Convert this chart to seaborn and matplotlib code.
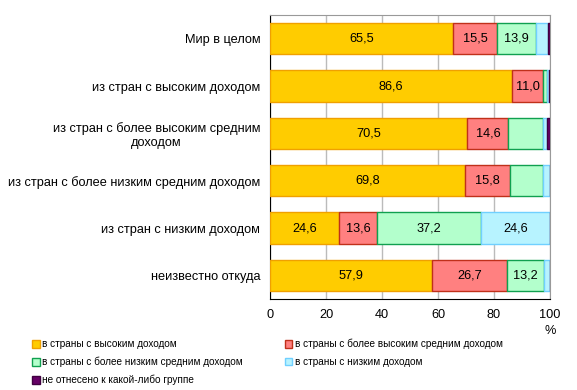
import pandas as pd
import matplotlib.pyplot as plt
import seaborn as sns
from matplotlib.patches import Patch

# categories (top to bottom)
categories = ['Мир в целом',
              'из стран с высоким доходом',
              'из стран с более высоким средним\nдоходом',
              'из стран с более низким средним доходом',
              'из стран с низким доходом',
              'неизвестно откуда']

series_names = ['в страны с высоким доходом',
                'в страны с более высоким средним доходом',
                'в страны с более низким средним доходом',
                'в страны с низким доходом',
                'не отнесено к какой-либо группе']

high = [65.5, 86.6, 70.5, 69.8, 24.6, 57.9]
upper_mid = [15.5, 11.0, 14.6, 15.8, 13.6, 26.7]
lower_mid = [13.9, 1.3, 12.4, 11.8, 37.2, 13.2]
low = [4.4, 0.6, 1.4, 2.6, 24.6, 2.2]
unassigned = [0.7, 0.5, 1.1, 0.0, 0.0, 0.0]

# which segments carry a value label
show_high = [True, True, True, True, True, True]
show_upper_mid = [True, True, True, True, True, True]
show_lower_mid = [True, False, False, False, True, True]
show_low = [False, False, False, False, True, False]
show_unassigned = [False] * 6

fills = ['#FFCC00', '#FF8080', '#B3FFCC', '#B7F3FF', '#660066']
edges = ['#F0A000', '#C0301A', '#10A050', '#70D0FF', '#400040']

plt.rcParams['font.family'] = ['Liberation Sans', 'DejaVu Sans']

fig = plt.figure(figsize=(5.77, 3.90), dpi=100)
ax = fig.add_axes([270 / 577, 1 - 299 / 390, 280 / 577, 284 / 390])

values = [high, upper_mid, lower_mid, low, unassigned]
shows = [show_high, show_upper_mid, show_lower_mid, show_low, show_unassigned]
left = [0.0] * len(categories)
for vals, show, fc, ec in zip(values, shows, fills, edges):
    df = pd.DataFrame({'cat': categories, 'val': vals})
    sns.barplot(data=df, x='val', y='cat', order=categories, left=left,
                color=fc, edgecolor=ec, linewidth=1, width=0.655,
                saturation=1, ax=ax, zorder=3)
    for i, (v, s) in enumerate(zip(vals, show)):
        if s:
            ax.text(left[i] + v / 2, i, f'{v:.1f}'.replace('.', ','),
                    ha='center', va='center', fontsize=9.2, zorder=4)
    left = [l + v for l, v in zip(left, vals)]

ax.set_xlim(0, 100)
ax.set_ylim(5.5, -0.5)
ax.set_xticks([0, 20, 40, 60, 80, 100])
ax.set_xticklabels(['0', '20', '40', '60', '80', '100'], fontsize=9.2)
ax.tick_params(axis='both', length=0, pad=7)
ax.tick_params(axis='y', pad=7)
for t in ax.get_yticklabels():
    t.set_fontsize(9.2)
    t.set_multialignment('center')
ax.set_xlabel('')
ax.set_ylabel('')
ax.grid(axis='x', color='#BBBBBB', linewidth=1, zorder=0)
ax.set_axisbelow(True)
for side in ['top', 'right']:
    ax.spines[side].set_color('#999999')
for side in ['left', 'bottom']:
    ax.spines[side].set_color('black')
ax.text(1.0, -0.09, '%', transform=ax.transAxes, ha='center', va='top', fontsize=9.2)

handles = [Patch(facecolor=fc, edgecolor=ec) for fc, ec in zip(fills, edges)]
order = [0, 2, 4, 1, 3]
fig.legend([handles[i] for i in order], [series_names[i] for i in order],
           loc='upper left', bbox_to_anchor=(32 / 577, 1 - 339 / 390),
           ncol=2, frameon=False, fontsize=7.2, handlelength=0.75, handleheight=0.75,
           handletextpad=0.25, columnspacing=4.2, labelspacing=0.75,
           borderaxespad=0, borderpad=0)

fig.savefig('out.png', dpi=100)
